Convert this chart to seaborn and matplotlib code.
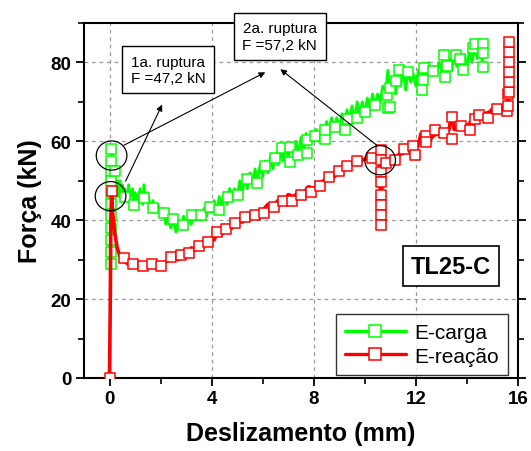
import matplotlib
matplotlib.use("Agg")
import matplotlib.pyplot as plt
import seaborn as sns
import pandas as pd
from matplotlib.patches import Ellipse
from matplotlib.lines import Line2D
from matplotlib.ticker import MultipleLocator

# ---------------- data ----------------
carga_line_x = [0.02, 0.03, 0.04, 0.05, 0.06, 0.08, 0.12, 0.2, 0.25, 0.3, 0.35, 0.4, 0.45, 0.5, 0.55, 0.6,
                0.7, 0.75, 0.8, 0.9, 0.95, 1.0, 1.1, 1.2, 1.3, 1.35, 1.4, 1.5, 1.6, 1.7, 1.8, 1.9, 2.0,
                2.1, 2.2, 2.3, 2.4, 2.5, 2.6, 2.7, 2.8, 2.9, 3.0, 3.1, 3.2, 3.3, 3.4, 3.5, 3.6, 3.7, 3.8,
                3.9, 4.0, 4.1, 4.2, 4.3, 4.4, 4.5, 4.6, 4.7, 4.8, 4.9, 5.0, 5.1, 5.2, 5.3, 5.4, 5.5, 5.6,
                5.7, 5.8, 5.9, 6.0, 6.1, 6.2, 6.3, 6.4, 6.5, 6.6, 6.7, 6.8, 6.9, 7.0, 7.1, 7.2, 7.3, 7.4,
                7.5, 7.6, 7.7, 7.8, 7.9, 8.0, 8.1, 8.2, 8.3, 8.4, 8.5, 8.6, 8.7, 8.8, 8.9, 9.0, 9.1, 9.2,
                9.3, 9.4, 9.5, 9.6, 9.7, 9.8, 9.9, 10.0, 10.1, 10.2, 10.3, 10.4, 10.5, 10.6, 10.7, 10.8,
                10.9, 11.0, 11.1, 11.2, 11.3, 11.4, 11.5, 11.6, 11.7, 11.8, 11.9, 12.0, 12.1, 12.2, 12.3,
                12.4, 12.5, 12.6, 12.7, 12.8, 12.9, 13.0, 13.1, 13.2, 13.3, 13.4, 13.5, 13.6, 13.7, 13.8,
                13.9, 14.0, 14.1, 14.2, 14.3, 14.4, 14.5, 14.6, 14.65]
carga_line_y = [28, 35, 42, 50, 55, 58, 53, 52, 47, 50, 46, 50, 46, 49, 45, 48,
                45, 49, 46, 48, 44, 47, 45, 48, 44, 49, 45, 47, 43, 45, 42, 44, 41,
                43, 39, 41, 38, 40, 37, 40, 38, 41, 38, 41, 39, 42, 40, 42, 40, 43, 41,
                44, 42, 45, 42, 46, 43, 47, 44, 48, 45, 48, 46, 50, 47, 51, 48, 52, 49,
                53, 50, 54, 51, 55, 52, 56, 53, 57, 54, 58, 55, 59, 56, 59, 57, 60, 57,
                61, 58, 62, 59, 62, 60, 63, 60, 64, 61, 65, 62, 66, 63, 66, 63, 67, 64,
                68, 65, 69, 65, 70, 66, 70, 67, 71, 68, 72, 69, 72, 70, 74, 71,
                78, 73, 76, 72, 77, 74, 78, 73, 78, 75, 77, 74, 78, 72, 79,
                76, 80, 77, 79, 77, 80, 78, 83, 77, 81, 78, 82, 79, 82, 77,
                82, 79, 83, 80, 84, 81, 85, 80, 85]

carga_mark_x = [0.05, 0.05, 0.05, 0.05, 0.05, 0.05, 0.05, 0.05, 0.05, 0.05, 0.05, 0.2,
                0.6, 0.95, 1.34, 1.7, 2.12, 2.48, 2.87, 3.23, 3.6, 3.92, 4.3, 4.64, 5.03, 5.38,
                5.78, 6.1, 6.5, 6.76, 7.08, 7.08, 7.37, 7.73, 7.73, 8.06, 8.45, 8.45, 8.84, 9.23,
                9.36, 9.69, 10.0, 10.4, 10.9, 10.86, 10.97, 10.97, 11.23, 11.32, 11.71, 12.27,
                12.23, 12.3, 12.69, 13.1, 13.15, 13.2, 13.58, 13.86, 13.73, 14.23, 14.3, 14.64,
                14.64, 14.64]
carga_mark_y = [58, 55, 52.5, 50, 47, 44, 41, 38, 35, 32, 29, 52.6,
                45.9, 43.8, 45.7, 43, 41.9, 40.2, 38.7, 41.3, 41.3, 43.3, 42.6, 45.9, 46.3, 50.4,
                49.5, 53.7, 55.8, 58.2, 58.6, 54.8, 56.5, 57.1, 60.3, 61.4, 60.5, 62.8, 63.6, 62.8,
                65.6, 65.9, 67.4, 69.3, 68.5, 71.7, 73.5, 68.7, 75.3, 78.1, 77.6, 75.5,
                73, 78.6, 77.8, 82, 76.3, 79, 81.9, 78.1, 81, 83.6, 84.8, 84.8,
                82.3, 78.9]

reacao_line_x = [0.0, 0.03, 0.05, 0.08, 0.12, 0.2, 0.3, 0.4, 0.5, 0.7, 1.0, 1.3, 1.6, 2.0, 2.2, 2.4,
                 2.6, 2.7, 2.8, 3.0, 3.2, 3.4, 3.6, 3.8, 4.0, 4.1, 4.2, 4.4, 4.6, 4.8, 5.0, 5.2,
                 5.4, 5.6, 5.8, 6.0, 6.2, 6.4, 6.6, 6.8, 7.0, 7.2, 7.4, 7.6, 7.8, 8.0, 8.2, 8.4,
                 8.6, 8.8, 9.0, 9.2, 9.4, 9.6, 9.8, 10.0, 10.2, 10.4, 10.55, 10.6, 10.62, 10.65,
                 10.7, 10.9, 11.1, 11.3, 11.5, 11.7, 11.9, 12.1, 12.2, 12.3, 12.5, 12.7, 12.9,
                 13.1, 13.3, 13.4, 13.5, 13.7, 13.9, 14.1, 14.3, 14.5, 14.7, 14.9, 15.1, 15.3,
                 15.5, 15.6, 15.65, 15.68]
reacao_line_y = [0, 20, 40, 47, 42, 37, 33, 31, 30, 29, 28.5, 28, 28.5, 28.5, 29.5, 30,
                 31, 30, 32, 31, 33, 32.5, 34, 34, 35.5, 35, 37, 36.5, 38, 38, 40, 39.5,
                 41, 41, 42, 42.5, 44, 43.5, 45, 44.5, 46.5, 46, 47, 47, 48.5, 48, 49.5, 50,
                 51.5, 51, 52.5, 53, 54, 54.5, 55, 55.5, 56, 56.5, 57, 50, 38, 45,
                 54, 55, 56, 56.5, 57, 58, 57.5, 59, 62, 60, 60, 61.5, 62,
                 61.5, 63, 67, 63, 64, 63.5, 64.5, 67, 66, 67, 67.5, 69, 68,
                 69.5, 70, 75, 85]

reacao_mark_x = [0.0, 0.08, 0.56, 0.91, 1.3, 1.67, 2.03, 2.39, 2.78, 3.13, 3.49, 3.86, 4.21, 4.57,
                 4.93, 5.29, 5.71, 6.06, 6.43, 6.8, 7.15, 7.5, 7.89, 8.26, 8.58, 8.97, 9.3, 9.69,
                 10.28, 10.63, 10.63, 10.63, 10.63, 10.63, 10.63, 10.63, 10.63, 10.83, 11.19,
                 11.54, 11.9, 11.97, 12.4, 12.4, 12.75, 13.1, 13.4, 13.4, 13.76, 14.12, 14.32,
                 14.49, 14.84, 15.19, 15.56, 15.62, 15.62, 15.66, 15.66, 15.66, 15.66, 15.66, 15.66]
reacao_mark_y = [0.0, 47.3, 30.3, 29, 28.3, 29, 28.3, 30.6, 31.2, 31.7, 33.4, 34.4, 37, 37.8,
                 39.4, 40.8, 41.3, 41.9, 43.3, 45, 45, 46.5, 47.1, 48.7, 50.9, 52.6, 53.7, 55,
                 55.8, 57.7, 55.2, 52.2, 49.7, 46.3, 43.8, 41.3, 38.7, 54.6, 55.2,
                 58, 58.8, 56.6, 61.4, 59.8, 63, 62.2, 66.2, 60.7, 63.9, 62.8, 65.6,
                 66.8, 65.9, 68.1, 67.6, 69, 72.1, 72.5, 75.1, 77.6, 80.2, 82.7, 85.2]

series_labels = ["E-carga", "E-reação"]
series_colors = ["#00ff00", "#ff0000"]
x_ticks = [0, 4, 8, 12, 16]
y_ticks = [0, 20, 40, 60, 80]
x_label = "Deslizamento (mm)"
y_label = "Força (kN)"
note1 = "1a. ruptura\nF =47,2 kN"
note2 = "2a. ruptura\nF =57,2 kN"
specimen = "TL25-C"

# ---------------- style ----------------
sns.set_theme(style="ticks")
plt.rcParams["font.family"] = ["Liberation Sans", "DejaVu Sans"]
plt.rcParams.update({"text.color": "black", "axes.labelcolor": "black",
                     "xtick.color": "black", "ytick.color": "black"})

fig = plt.figure(figsize=(5.31, 4.52), dpi=100)
ax = fig.add_axes([84 / 531, 1 - 379 / 452, (518 - 84) / 531, (379 - 24) / 452])

df_c = pd.DataFrame({"x": carga_line_x, "y": carga_line_y})
df_r = pd.DataFrame({"x": reacao_line_x, "y": reacao_line_y})
dm_c = pd.DataFrame({"x": carga_mark_x, "y": carga_mark_y})
dm_r = pd.DataFrame({"x": reacao_mark_x, "y": reacao_mark_y})

sns.lineplot(data=df_c, x="x", y="y", sort=False, estimator=None, color=series_colors[0],
             lw=2.0, ax=ax, zorder=3)
sns.scatterplot(data=dm_c, x="x", y="y", marker="s", s=44, facecolor="white",
                edgecolor=series_colors[0], linewidth=1.1, ax=ax, zorder=4)
sns.lineplot(data=df_r, x="x", y="y", sort=False, estimator=None, color=series_colors[1],
             lw=2.6, ax=ax, zorder=5)
sns.scatterplot(data=dm_r, x="x", y="y", marker="s", s=44, facecolor="white",
                edgecolor=series_colors[1], linewidth=1.1, ax=ax, zorder=6)

ax.set_xlim(-1, 16)
ax.set_ylim(0, 90)
ax.set_xticks(x_ticks)
ax.set_yticks(y_ticks)
ax.xaxis.set_minor_locator(MultipleLocator(2))
ax.yaxis.set_minor_locator(MultipleLocator(10))
ax.tick_params(which="major", direction="out", length=6, width=1.3, labelsize=13.5, pad=3,
               right=True, color="black", labelcolor="black")
ax.tick_params(which="minor", direction="out", length=4, width=1.2, right=True, color="black")
for lab in ax.get_xticklabels() + ax.get_yticklabels():
    lab.set_fontweight("bold")
for sp in ax.spines.values():
    sp.set_visible(True)
    sp.set_linewidth(1.5)
    sp.set_color("black")
ax.grid(True, which="major", color="#9a9a9a", linestyle=(0, (3, 3)), linewidth=0.9)
ax.set_axisbelow(True)

ax.set_xlabel(x_label, fontsize=18, fontweight="bold", labelpad=10, color="black")
ax.set_ylabel(y_label, fontsize=18, fontweight="bold", labelpad=6, color="black")

# ellipses marking the ruptures
for (cx, cy) in [(0.08, 56.4), (0.04, 46.1), (10.6, 55.2)]:
    ax.add_patch(Ellipse((cx, cy), width=1.2, height=7.4, fill=False, edgecolor="black",
                         lw=0.9, zorder=7))

# arrows
arrow_kw = dict(arrowstyle="-|>", color="black", lw=0.8, mutation_scale=9, shrinkA=0, shrinkB=0)
ax.annotate("", xy=(6.1, 77.5), xytext=(0.56, 59.0), arrowprops=arrow_kw, zorder=8)
ax.annotate("", xy=(2.06, 69.3), xytext=(0.63, 49.9), arrowprops=arrow_kw, zorder=8)
ax.annotate("", xy=(6.69, 78.3), xytext=(10.47, 59.0), arrowprops=arrow_kw, zorder=8)

box_kw = dict(boxstyle="square,pad=0.55", facecolor="white", edgecolor="black", lw=1.0)
ax.text(2.29, 78.1, note1, fontsize=11, ha="center", va="center", linespacing=1.2,
        bbox=box_kw, zorder=9, clip_on=False, color="black")
ax.text(6.67, 86.6, note2, fontsize=11, ha="center", va="center", linespacing=1.2,
        bbox=box_kw, zorder=9, clip_on=False, color="black")

ax.text(0.846, 0.315, specimen, transform=ax.transAxes, fontsize=17, fontweight="bold",
        ha="center", va="center", color="black",
        bbox=dict(boxstyle="square,pad=0.35", facecolor="white", edgecolor="black", lw=1.2),
        zorder=9)

handles = [Line2D([0], [0], color=c, lw=2.4, marker="s", markersize=8, markerfacecolor="white",
                  markeredgecolor=c, markeredgewidth=1.1) for c in series_colors]
leg = ax.legend(handles, series_labels, loc="lower right", bbox_to_anchor=(0.977, 0.0085),
                borderaxespad=0, fontsize=15, frameon=True, fancybox=False, handlelength=2.9,
                handletextpad=0.4, labelspacing=0.2, borderpad=0.45)
leg.get_frame().set_edgecolor("black")
leg.get_frame().set_linewidth(1.0)
leg.set_zorder(10)
for t in leg.get_texts():
    t.set_color("black")

fig.savefig("out.png", dpi=100)
